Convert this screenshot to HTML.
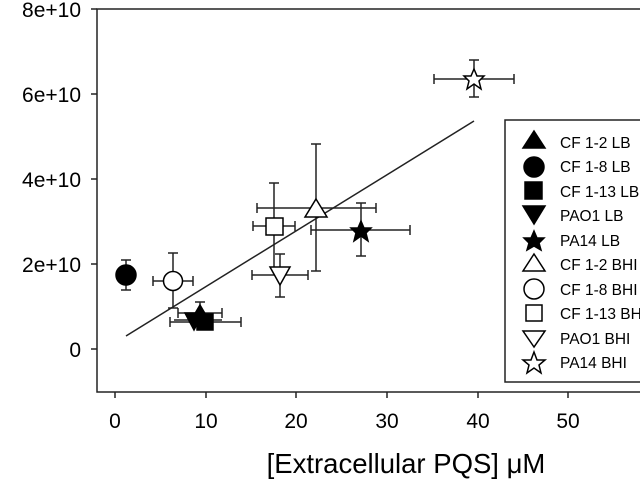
<!DOCTYPE html>
<html><head><meta charset="utf-8"><style>
html,body{margin:0;padding:0;background:#fff;}
svg{display:block;}
text{font-family:"Liberation Sans",sans-serif;fill:#000;}
</style></head><body>
<svg width="640" height="480" viewBox="0 0 640 480" xmlns="http://www.w3.org/2000/svg">
<g stroke="#222" stroke-width="1.5" fill="none">
<rect x="97" y="9" width="600" height="383"/>
<line x1="91" y1="9" x2="97" y2="9"/>
<line x1="91" y1="94" x2="97" y2="94"/>
<line x1="91" y1="179" x2="97" y2="179"/>
<line x1="91" y1="264" x2="97" y2="264"/>
<line x1="91" y1="349" x2="97" y2="349"/>
<line x1="115" y1="392" x2="115" y2="398"/>
<line x1="206" y1="392" x2="206" y2="398"/>
<line x1="296" y1="392" x2="296" y2="398"/>
<line x1="387" y1="392" x2="387" y2="398"/>
<line x1="478" y1="392" x2="478" y2="398"/>
<line x1="568" y1="392" x2="568" y2="398"/>
<line x1="126" y1="336" x2="474" y2="121"/>
</g>
<g font-size="21">
<text x="81" y="17" text-anchor="end">8e+10</text>
<text x="81" y="102" text-anchor="end">6e+10</text>
<text x="81" y="187" text-anchor="end">4e+10</text>
<text x="81" y="272" text-anchor="end">2e+10</text>
<text x="81" y="357" text-anchor="end">0</text>
<text x="115" y="428" text-anchor="middle">0</text>
<text x="206" y="428" text-anchor="middle">10</text>
<text x="296" y="428" text-anchor="middle">20</text>
<text x="387" y="428" text-anchor="middle">30</text>
<text x="478" y="428" text-anchor="middle">40</text>
<text x="568" y="428" text-anchor="middle">50</text>
</g>
<text x="406" y="473" font-size="27.5" text-anchor="middle">[Extracellular PQS] μM</text>
<g stroke="#222" stroke-width="1.5" fill="none">
<path d="M126 260V290M121 260h10M121 290h10"/>
<path d="M173 253V308M168 253h10M168 308h10M153 281H193M153 276v10M193 276v10"/>
<path d="M200 302V320M195 302h10M178 313H222M178 308v10M222 308v10"/>
<path d="M170 322H241M170 317v10M241 317v10M174 320H222"/>
<path d="M274 183V270M269 183h10M253 226H295M253 221v10M295 221v10"/>
<path d="M280 254V297M275 254h10M275 297h10M252 275H308M252 270v10M308 270v10"/>
<path d="M316 144V271M311 144h10M311 271h10M257 208H376M257 203v10M376 203v10"/>
<path d="M361 203V256M356 203h10M356 256h10M311 230H410M311 225v10M410 225v10"/>
<path d="M474 60V97M469 60h10M469 97h10M434 79H514M434 74v10M514 74v10"/>
</g>
<g stroke="#000" stroke-width="1.5">
<circle cx="126" cy="275" r="10" fill="#000"/>
<circle cx="173" cy="281" r="9.5" fill="#fff"/>
<polygon points="194,330 185,313 203,313" fill="#000"/>
<rect x="197" y="314" width="16" height="16" fill="#000"/>
<polygon points="200,305 210,322 190,322" fill="#000"/>
<rect x="266" y="218" width="17" height="17" fill="#fff"/>
<polygon points="280,285 270,267 290,267" fill="#fff"/>
<polygon points="316,199 327,217 305,217" fill="#fff"/>
<polygon points="361,221 364,228 371,228 366,233 368,241 361,236 354,241 356,233 351,228 358,228" fill="#000"/>
<polygon points="474,69 477,76 484,76 479,81 481,89 474,84 467,89 469,81 464,76 471,76" fill="#fff"/>
</g>
<rect x="505" y="120" width="140" height="262" fill="#fff" stroke="#222" stroke-width="1.5"/>
<g stroke="#000" stroke-width="1.5">
<polygon points="534,131 545,148 523,148" fill="#000"/>
<circle cx="534" cy="167" r="10" fill="#000"/>
<rect x="525" y="182" width="17" height="17" fill="#000"/>
<polygon points="534,224 523,206 545,206" fill="#000"/>
<polygon points="534,231 537,238 544,238 539,243 541,250 534,246 527,250 529,243 524,238 531,238" fill="#000"/>
<polygon points="534,254 545,271 523,271" fill="#fff"/>
<circle cx="534" cy="289" r="10" fill="#fff"/>
<rect x="526" y="305" width="16" height="16" fill="#fff"/>
<polygon points="534,347 523,331 545,331" fill="#fff"/>
<polygon points="534,352 537,360 545,360 539,365 541,373 534,368 527,373 529,365 523,360 531,360" fill="#fff"/>
</g>
<g font-size="15.5">
<text x="560" y="148">CF 1-2 LB</text>
<text x="560" y="172">CF 1-8 LB</text>
<text x="560" y="197">CF 1-13 LB</text>
<text x="560" y="221">PAO1 LB</text>
<text x="560" y="246">PA14 LB</text>
<text x="560" y="270">CF 1-2 BHI</text>
<text x="560" y="295">CF 1-8 BHI</text>
<text x="560" y="319">CF 1-13 BHI</text>
<text x="560" y="344">PAO1 BHI</text>
<text x="560" y="368">PA14 BHI</text>
</g>
</svg>
</body></html>
